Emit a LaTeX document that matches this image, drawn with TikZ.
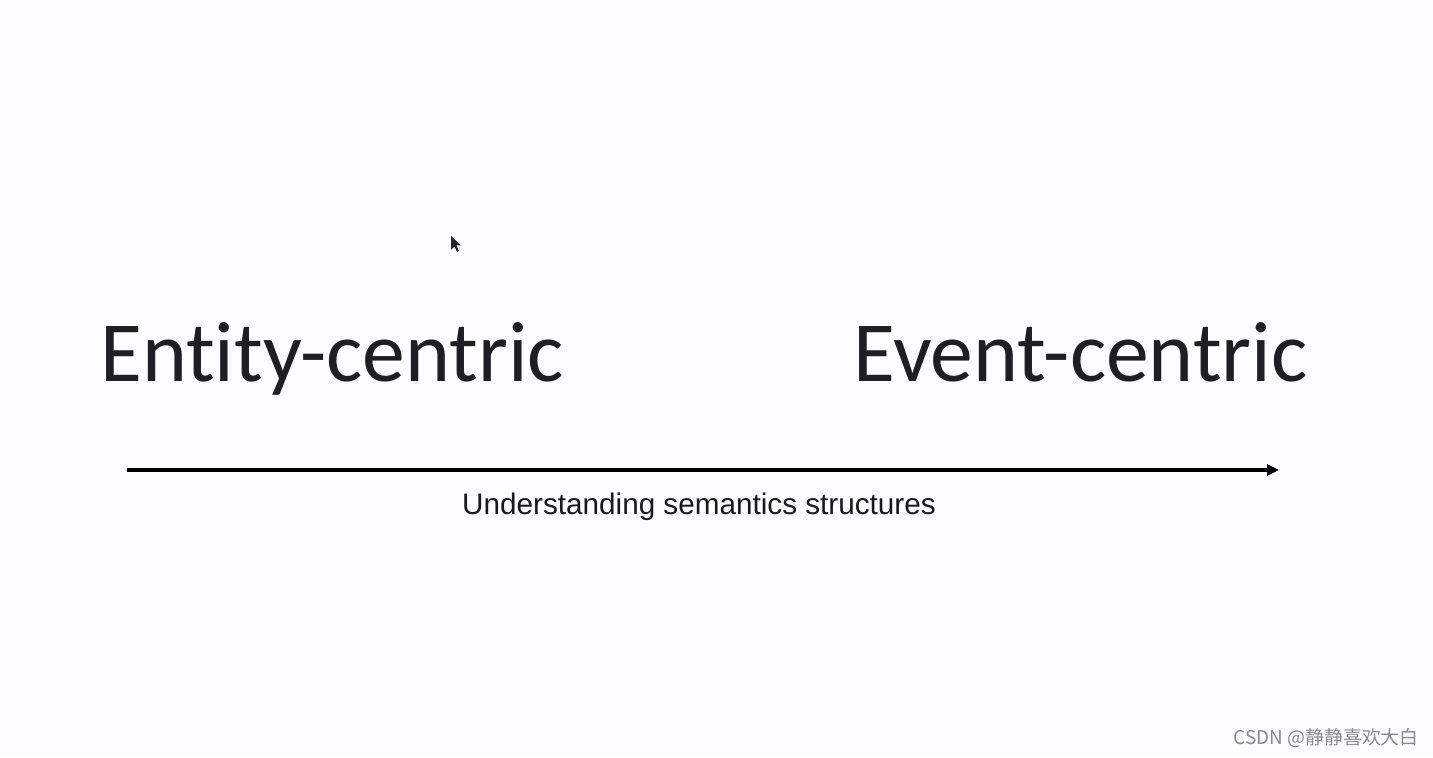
\documentclass[tikz,border=0pt]{standalone}
\usepackage{fontspec}
\setmainfont[Ligatures={NoCommon}]{Carlito}
\newfontfamily\arialfont{Liberation Sans}
\newfontfamily\cjkfont{Noto Sans CJK SC}
\usetikzlibrary{arrows.meta}
\definecolor{bgcol}{HTML}{FDFCFE}
\definecolor{txtcol}{HTML}{1F1F23}
\definecolor{wmcol}{HTML}{8A8A8A}
\tikzset{
  bigtext/.style={anchor=base west, inner sep=0pt, text=txtcol, font=\fontsize{86}{90}\selectfont},
  smalltext/.style={anchor=base west, inner sep=0pt, text=black!90, font=\arialfont\fontsize{29.8}{33}\selectfont},
  axis/.style={line width=3.6pt, -{Triangle[length=12pt,width=11pt]}},
  watermark/.style={anchor=base east, inner sep=0pt, text=wmcol, font=\cjkfont\fontsize{19}{22}\selectfont}
}
\begin{document}
\begin{tikzpicture}[x=1bp,y=1bp]
\fill[bgcol] (0,0) rectangle (1433,757);
\useasboundingbox (0,0) rectangle (1433,757);
\node[bigtext] (entity) at (100,375) {Entity-centric};
\node[bigtext] (event) at (853,375) {Event-centric};
\coordinate (astart) at (127,287);
\coordinate (aend) at (1279,287);
\draw[axis] (astart) -- (aend);
\node[smalltext] (label) at (462,242) {Understanding semantics structures};
\node[watermark] (wm) at (1419,13) {CSDN @静静喜欢大白};
\fill[black!85] (451,521) -- (451,507) -- (454.5,510.5) -- (457,505) -- (459,506) -- (456.5,511.5) -- (461,511.5) -- cycle;
\end{tikzpicture}
\end{document}
